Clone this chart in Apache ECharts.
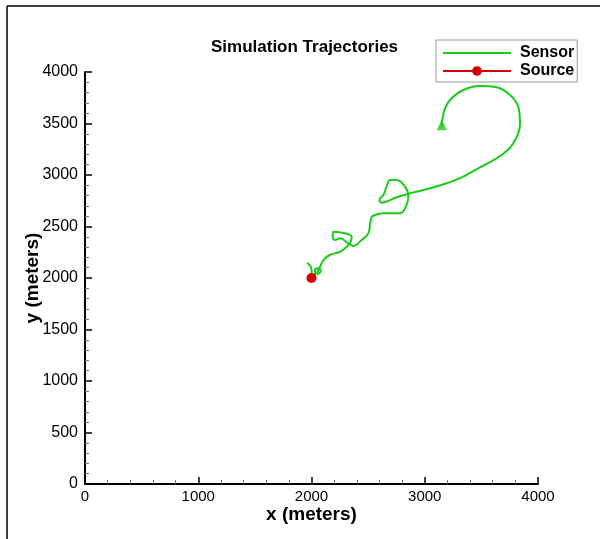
<!DOCTYPE html>
<html>
<head>
<meta charset="utf-8">
<script src="https://cdn.jsdelivr.net/npm/echarts@6/dist/echarts.min.js"></script>
<style>
  html, body { margin: 0; padding: 0; background: #fff; }
  #diagram { width: 605px; height: 539px; }
</style>
</head>
<body>
<div id="diagram"></div>
<script>
// sensor path (metres)
var sensorX = [1963, 1993, 2002, 2004, 2031, 2031, 2060, 2081, 2069, 2046, 2090, 2119, 2163, 2252, 2296, 2325,
  2340, 2355, 2296, 2192, 2187, 2208, 2252, 2325, 2369, 2443, 2502, 2523, 2540, 2634, 2781, 2826, 2855, 2826,
  2752, 2693, 2664, 2634, 2599, 2620, 2752, 2870, 3046, 3194, 3340, 3488, 3679, 3782, 3841, 3826, 3753, 3635,
  3488, 3340, 3223, 3170, 3150];
var sensorY = [2149, 2110, 2046, 2003, 2029, 2078, 2094, 2071, 2046, 2039, 2143, 2191, 2223, 2255, 2288, 2320,
  2337, 2401, 2434, 2450, 2401, 2369, 2386, 2337, 2311, 2369, 2434, 2563, 2602, 2628, 2628, 2677, 2789, 2887,
  2952, 2952, 2887, 2806, 2757, 2731, 2784, 2822, 2871, 2920, 2984, 3075, 3194, 3308, 3502, 3663, 3777, 3852,
  3864, 3825, 3728, 3615, 3469];
var source = [2000, 2000];

var green = '#1ccc1c';
var red = '#d40000';
var font = 'Liberation Sans, Arial, Helvetica, sans-serif';

var sensorData = sensorX.map(function (x, i) { return [x, sensorY[i]]; });
var last = sensorData[sensorData.length - 1];

var myChart = echarts.init(document.getElementById('diagram'));

var plain = function (v) { return String(v); };

var axisCommon = {
  type: 'value',
  min: 0,
  max: 4000,
  axisLine: { show: true, lineStyle: { color: '#000', width: 2 } },
  axisTick: { show: true, inside: true, length: 7, lineStyle: { color: '#000', width: 1.5 } },
  minorTick: { show: true, splitNumber: 5, length: 4, lineStyle: { color: '#777', width: 1 } },
  splitLine: { show: false },
  nameLocation: 'middle',
  nameMoveOverlap: false,
  nameTextStyle: { color: '#000', fontSize: 19, fontWeight: 'bold', fontFamily: font }
};

var option = {
  animation: false,
  backgroundColor: '#fff',
  title: {
    text: 'Simulation Trajectories',
    left: 206,
    top: 34,
    textStyle: { color: '#000', fontSize: 17, fontWeight: 'bold', fontFamily: font }
  },
  legend: {
    data: [
      { name: 'Sensor', itemStyle: { opacity: 0 } },
      { name: 'Source' }
    ],
    orient: 'vertical',
    left: 436,
    top: 40,
    padding: [5, 3, 3, 6],
    itemGap: 2,
    itemWidth: 68,
    itemHeight: 12,
    borderColor: '#999',
    borderWidth: 1,
    borderRadius: 0,
    backgroundColor: '#fff',
    textStyle: { color: '#000', fontSize: 16, fontWeight: 'bold', fontFamily: font, padding: [0, 0, 0, 4] }
  },
  graphic: [
    { type: 'line', shape: { x1: 7, y1: 6, x2: 7, y2: 539 }, style: { stroke: '#000', lineWidth: 1.5 } },
    { type: 'line', shape: { x1: 7, y1: 6, x2: 600, y2: 6 }, style: { stroke: '#000', lineWidth: 1.5 } }
  ],
  grid: { left: 85, right: 67, top: 72, bottom: 55 },
  xAxis: Object.assign({}, axisCommon, {
    interval: 1000,
    name: 'x (meters)',
    nameGap: 21,
    axisLabel: { color: '#000', fontSize: 15, fontFamily: font, margin: 5, formatter: plain }
  }),
  yAxis: Object.assign({}, axisCommon, {
    interval: 500,
    name: 'y (meters)',
    nameGap: 43,
    axisLabel: { color: '#000', fontSize: 16, fontFamily: font, margin: 7, formatter: plain }
  }),
  series: [
    {
      name: 'Sensor',
      type: 'line',
      data: sensorData,
      smooth: 0.4,
      symbol: 'none',
      lineStyle: { color: green, width: 2 },
      itemStyle: { color: green },
      z: 2
    },
    {
      name: 'Source',
      type: 'line',
      data: [source],
      symbol: 'circle',
      symbolSize: 10,
      showSymbol: true,
      lineStyle: { color: red, width: 1.5 },
      itemStyle: { color: red },
      z: 3
    },
    {
      name: 'end',
      type: 'scatter',
      data: [last],
      symbol: 'triangle',
      symbolSize: [10, 11],
      symbolOffset: [0, -2],
      itemStyle: { color: green },
      z: 3
    }
  ]
};

myChart.setOption(option);
</script>
</body>
</html>
